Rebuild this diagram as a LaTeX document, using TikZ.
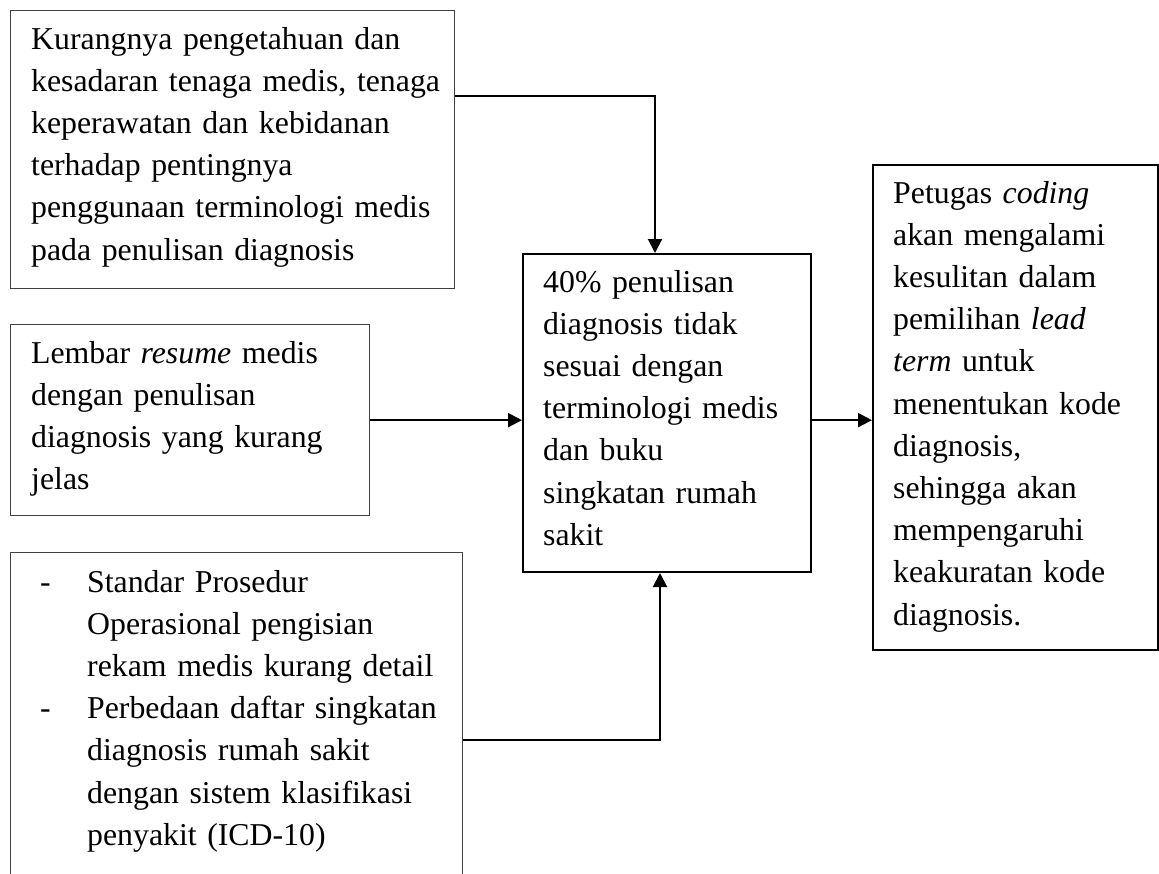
\documentclass[tikz,border=0pt]{standalone}
\usepackage{fontspec}
\setmainfont{Liberation Serif}
\usetikzlibrary{arrows.meta}
\tikzset{
  lbox/.style={draw=black!75, line width=1.3pt, inner sep=0pt, anchor=north west},
  cbox/.style={draw=black, line width=2pt, inner sep=0pt, anchor=north west},
  txt/.style={inner sep=0pt, anchor=base west, align=left,
    font=\fontsize{31.8pt}{42.2pt}\selectfont},
  arr/.style={line width=2pt, -{Triangle[length=14pt,width=14pt]}},
  conn/.style={line width=2pt}
}
\begin{document}
\begin{tikzpicture}[x=1pt,y=-1pt]
\useasboundingbox (0,0) rectangle (1159,873);
\clip (0,0) rectangle (1159,873);
\fill[white] (0,0) rectangle (1159,873);
% boxes
\node[lbox, minimum width=444pt, minimum height=278pt] (b1) at (10,10) {};
\node[lbox, minimum width=359pt, minimum height=191pt] (b2) at (10,324) {};
\node[lbox, minimum width=452pt, minimum height=360pt] (b3) at (10,552) {};
\node[cbox, minimum width=288pt, minimum height=318pt] (c) at (522,253) {};
\node[cbox, minimum width=285pt, minimum height=485pt] (r) at (872,164) {};
% texts
\node[txt, text width=420pt] (t1) at (31,49) {Kurangnya pengetahuan dan\\ kesadaran tenaga medis, tenaga\\ keperawatan dan kebidanan\\ terhadap pentingnya\\ penggunaan terminologi medis\\ pada penulisan diagnosis};
\node[txt, text width=335pt] (t2) at (31,363) {Lembar \textit{resume} medis\\ dengan penulisan\\ diagnosis yang kurang\\ jelas};
\node[txt, text width=415pt] (t3) at (40,592) {\makebox[47pt][l]{-}Standar Prosedur\\ \hspace*{47pt}Operasional pengisian\\ \hspace*{47pt}rekam medis kurang detail\\ \makebox[47pt][l]{-}Perbedaan daftar singkatan\\ \hspace*{47pt}diagnosis rumah sakit\\ \hspace*{47pt}dengan sistem klasifikasi\\ \hspace*{47pt}penyakit (ICD-10)};
\node[txt, text width=262pt] (tc) at (543,292) {40\% penulisan\\ diagnosis tidak\\ sesuai dengan\\ terminologi medis\\ dan buku\\ singkatan rumah\\ sakit};
\node[txt, text width=258pt] (tr) at (893,203) {Petugas \textit{coding}\\ akan mengalami\\ kesulitan dalam\\ pemilihan \textit{lead}\\ \textit{term} untuk\\ menentukan kode\\ diagnosis,\\ sehingga akan\\ mempengaruhi\\ keakuratan kode\\ diagnosis.};
% connectors
\coordinate (k1) at (655,96);
\coordinate (k3) at (660,740);
\draw[arr] (b1.east |- k1) -- (k1) -- (c.north -| k1);
\draw[arr] (b2.east) -- (c.west |- b2.east);
\draw[arr] (b3.east |- k3) -- (k3) -- (c.south -| k3);
\draw[arr] (c.east |- b2.east) -- (r.west |- b2.east);
\end{tikzpicture}
\end{document}
